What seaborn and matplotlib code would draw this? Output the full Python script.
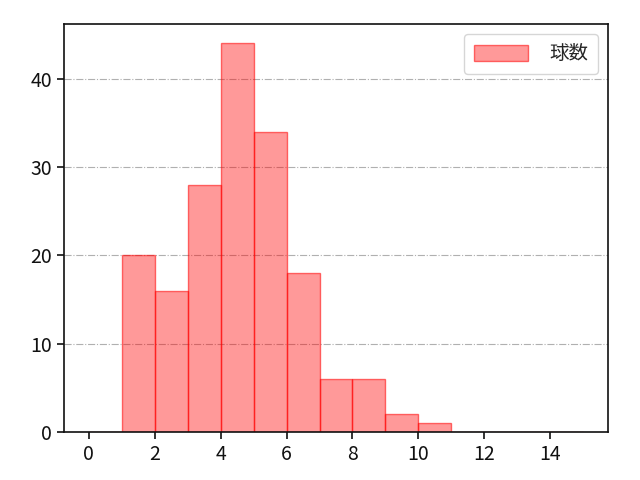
import numpy as np
import pandas as pd
import matplotlib
matplotlib.use("Agg")
import matplotlib.pyplot as plt
import seaborn as sns

# bins of width 1 from 0 to 15, counts per bin
bin_edges = list(range(0, 16))
bin_left = list(range(0, 15))
counts = [0, 20, 16, 28, 44, 34, 18, 6, 6, 2, 1, 0, 0, 0, 0]

df = pd.DataFrame({"value": [b + 0.5 for b in bin_left], "count": counts})

sns.set_style("ticks")
plt.rcParams['font.family'] = ['Noto Sans CJK JP', 'DejaVu Sans']

fig, ax = plt.subplots(figsize=(6.4, 4.8), dpi=100)
sns.histplot(data=df, x="value", weights="count", bins=bin_edges,
             color="red", alpha=0.4, edgecolor=(1, 0, 0, 0.55), linewidth=1.0,
             label="球数", ax=ax)

ax.grid(axis="y", linestyle="-.", color="#b0b0b0", linewidth=0.8)
ax.set_axisbelow(True)
ax.set_xlabel("")
ax.set_ylabel("")
ax.set_xticks([0, 2, 4, 6, 8, 10, 12, 14])
ax.set_yticks([0, 10, 20, 30, 40])
ax.tick_params(labelsize=14, length=5, width=1.2, colors="#111111")
for s in ax.spines.values():
    s.set_linewidth(1.2)
    s.set_color("#111111")
ax.legend(loc="upper right", fontsize=14, handlelength=2.8, handleheight=0.9,
          handletextpad=1.1, borderpad=0.5)

fig.subplots_adjust(left=0.1, right=0.95, top=0.95, bottom=0.1)
plt.savefig("out.png")
